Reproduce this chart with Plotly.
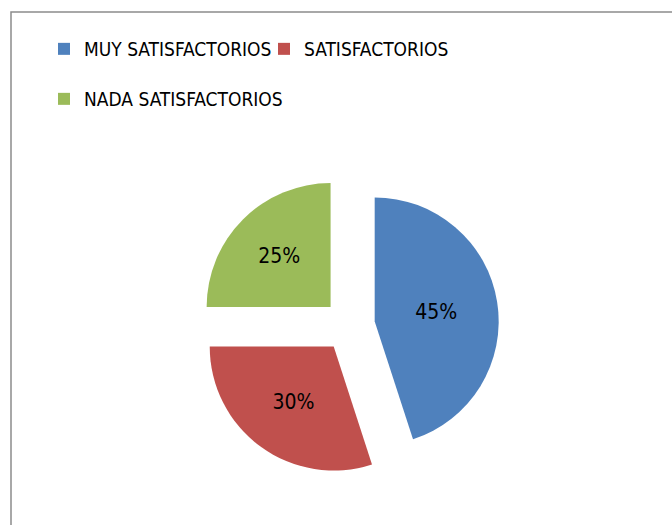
import plotly.graph_objects as go

categories = ["MUY SATISFACTORIOS", "SATISFACTORIOS", "NADA SATISFACTORIOS"]
values = [45, 30, 25]
colors = ["#4F81BD", "#C0504D", "#9BBB59"]
legend_ids = ["legend", "legend", "legend2"]

FONT = "DejaVu Sans Condensed, Liberation Sans Narrow, sans-serif"

fig = go.Figure()
fig.add_trace(go.Pie(
    labels=categories, values=values, sort=False, direction="clockwise", rotation=0,
    marker=dict(colors=colors, line=dict(width=0)),
    pull=[0.21, 0.21, 0.21],
    textinfo="percent", textposition="inside", insidetextorientation="horizontal",
    textfont=dict(color="black", size=21, family=FONT),
    showlegend=False, hoverinfo="label+percent",
    domain=dict(x=[(349-150)/672, (349+150)/672], y=[(199.5-150)/525, (199.5+150)/525]),
))
for cat, col, lg in zip(categories, colors, legend_ids):
    fig.add_trace(go.Scatter(
        x=[None], y=[None], mode="markers", name=cat, legend=lg,
        marker=dict(symbol="square", size=12, color=col),
    ))

fig.update_layout(
    width=672, height=525,
    margin=dict(l=0, r=0, t=0, b=0),
    paper_bgcolor="white", plot_bgcolor="white",
    font=dict(family=FONT, size=19, color="black"),
    xaxis=dict(visible=False), yaxis=dict(visible=False),
    legend=dict(orientation="h", x=44/672, xanchor="left", y=1-49/525, yanchor="middle",
                font=dict(size=19, family=FONT), bgcolor="rgba(0,0,0,0)", entrywidth=175),
    legend2=dict(orientation="h", x=44/672, xanchor="left", y=1-99/525, yanchor="middle",
                 font=dict(size=19, family=FONT), bgcolor="rgba(0,0,0,0)"),
    shapes=[dict(type="rect", xref="paper", yref="paper",
                 x0=11/672, x1=1.05, y0=-0.05, y1=1-12/525,
                 line=dict(color="#8C8C8C", width=1.5), fillcolor="rgba(0,0,0,0)")],
)
fig.write_html("out.html", config={"displayModeBar": False},
               post_script="document.body.style.margin='0';document.body.style.overflow='hidden';")
